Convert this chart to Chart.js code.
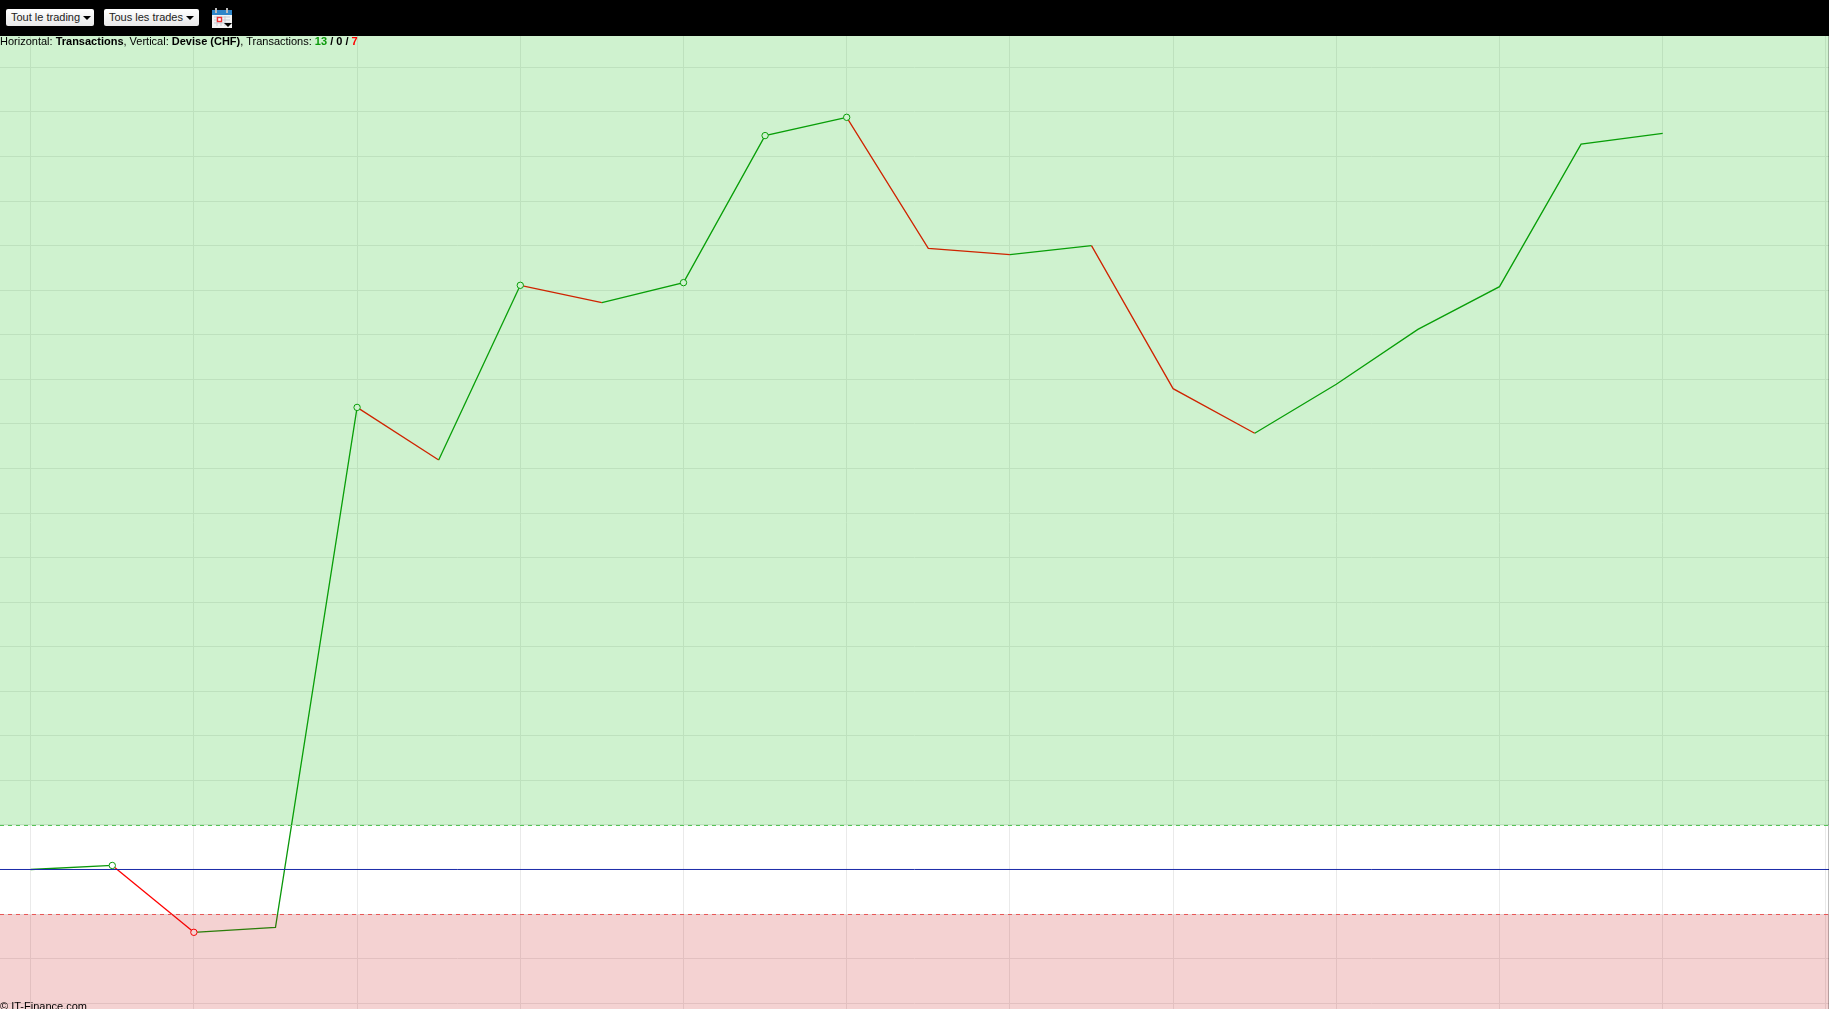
<!DOCTYPE html>
<html lang="fr">
<head>
<meta charset="utf-8">
<title>IT-Finance</title>
<script src="https://cdn.jsdelivr.net/npm/chart.js@4"></script>
<style>
html, body { margin: 0; padding: 0; width: 1829px; height: 1009px; overflow: hidden; background: #fff; }
body { font-family: "Liberation Sans", Arial, sans-serif; font-size: 11px; color: #000; position: relative; }
.toolbar { position: absolute; left: 0; top: 0; width: 1829px; height: 36px; background: #000; }
.btn { position: absolute; top: 9px; height: 17px; box-sizing: border-box; padding: 0 0 0 5px; border: 0; border-radius: 2px;
  background: linear-gradient(#fff, #e8e8e8); font: 11px/15px "Liberation Sans", Arial, sans-serif; color: #222; white-space: nowrap; text-align: left; }
.caret { display: inline-block; margin-left: 3px; vertical-align: 1px; border-left: 4px solid transparent; border-right: 4px solid transparent; border-top: 4px solid #000; }
.icon { position: absolute; left: 212px; top: 8px; }
.chart-wrap { position: absolute; left: 0; top: 36px; width: 1829px; height: 973px; }
.caption { position: absolute; left: 0; top: 34px; line-height: 14px; white-space: nowrap; }
.copyright { position: absolute; left: 0; top: 999px; line-height: 14px; white-space: nowrap; }
.edge { position: absolute; left: 1828px; top: 36px; width: 1px; height: 973px; background: rgba(0,0,0,0.25); }
.win { color: #0a9a0a; } .loss { color: #f00; }
</style>
</head>
<body>
<div class="toolbar">
  <button class="btn" style="left:6px;width:88px">Tout le trading<span class="caret"></span></button>
  <button class="btn" style="left:104px;width:95px">Tous les trades<span class="caret"></span></button>
  <svg class="icon" width="20" height="20" viewBox="0 0 20 20">
    <rect x="0" y="2" width="20" height="18" fill="#f4f4f4"/>
    <rect x="0" y="2" width="20" height="5" fill="#2f86c9"/>
    <rect x="3" y="0" width="2" height="5" fill="#bbb"/>
    <rect x="14" y="0" width="2" height="5" fill="#bbb"/>
    <path d="M2 9H18M2 12H18M2 15H18M5 8V18M9 8V18M13 8V18" stroke="#c5cdd6" stroke-width="1" fill="none"/>
    <rect x="5.5" y="9.5" width="4" height="4" fill="#fff" stroke="#e33" stroke-width="1.4"/>
    <path d="M12 15H20L16 19Z" fill="#000"/>
  </svg>
</div>
<div class="chart-wrap"><canvas id="equityChart" width="1829" height="973"></canvas></div>
<div class="caption">Horizontal: <b>Transactions</b>, Vertical: <b>Devise (CHF)</b>, Transactions: <b class="win">13</b> <b>/ 0 /</b> <b class="loss">7</b></div>
<div class="copyright">© IT-Finance.com</div>
<div class="edge"></div>

<script>
'use strict';

// ----- data (y in grid steps, the axis has no labels) -----
const tradeNumbers = [0, 1, 2, 3, 4, 5, 6, 7, 8, 9, 10, 11, 12, 13, 14, 15, 16, 17, 18, 19, 20];
const balance = [0, 0.09, -1.41, -1.30, 10.37, 9.19, 13.11, 12.72, 13.17, 16.47, 16.88,
  13.94, 13.80, 14.00, 10.79, 9.79, 10.89, 12.12, 13.08, 16.28, 16.52];
const markedTrades = [1, 2, 4, 6, 8, 9, 10];
const xTicks = [0, 2, 4, 6, 8, 10, 12, 14, 16, 18, 20, 22];
const yTicks = [-3, -2, -1, 0, 1, 2, 3, 4, 5, 6, 7, 8, 9, 10, 11, 12, 13, 14, 15, 16, 17, 18];
const xRange = [-0.376, 22.038];
const yRange = [-3.131, 18.705];
const upperLimit = 0.987;
const lowerLimit = -1.01;

const GREEN = '#0a980a';
const RED = '#ff0000';

const flatLine = y => xRange.map(x => ({ x, y }));
const toTicks = list => axis => { axis.ticks = list.map(value => ({ value })); };

new Chart(document.getElementById('equityChart'), {
  type: 'line',
  data: {
    datasets: [
      // zone above the upper limit
      {
        data: flatLine(upperLimit),
        borderColor: '#55c455',
        borderWidth: 1,
        borderDash: [4, 4],
        pointRadius: 0,
        fill: 'end',
        backgroundColor: 'rgba(0,185,0,0.19)',
      },
      // zone below the lower limit
      {
        data: flatLine(lowerLimit),
        borderColor: '#e85555',
        borderWidth: 1,
        borderDash: [4, 4],
        pointRadius: 0,
        fill: 'start',
        backgroundColor: 'rgba(194,5,5,0.18)',
      },
      // zero line
      {
        data: flatLine(0),
        borderColor: '#1a2aa8',
        borderWidth: 1,
        pointRadius: 0,
      },
      // account balance
      {
        data: tradeNumbers.map((x, i) => ({ x, y: balance[i] })),
        borderWidth: 1.3,
        borderColor: GREEN,
        tension: 0,
        segment: {
          borderColor: ctx => (ctx.p1.parsed.y >= ctx.p0.parsed.y ? GREEN : RED),
        },
        pointRadius: ctx => (markedTrades.includes(ctx.dataIndex) ? 3.2 : 0),
        pointBackgroundColor: '#fff',
        pointBorderWidth: 1,
        pointBorderColor: ctx => (balance[ctx.dataIndex] < lowerLimit ? RED : GREEN),
      },
    ],
  },
  options: {
    responsive: false,
    animation: false,
    layout: { padding: 0 },
    plugins: {
      legend: { display: false },
      tooltip: { enabled: false },
    },
    scales: {
      x: {
        type: 'linear',
        min: xRange[0],
        max: xRange[1],
        afterBuildTicks: toTicks(xTicks),
        ticks: { display: false },
        border: { display: false },
        grid: { color: '#eaeaea', drawTicks: false },
      },
      y: {
        min: yRange[0],
        max: yRange[1],
        afterBuildTicks: toTicks(yTicks),
        ticks: { display: false },
        border: { display: false },
        grid: { color: '#eaeaea', drawTicks: false },
      },
    },
  },
});
</script>
</body>
</html>
